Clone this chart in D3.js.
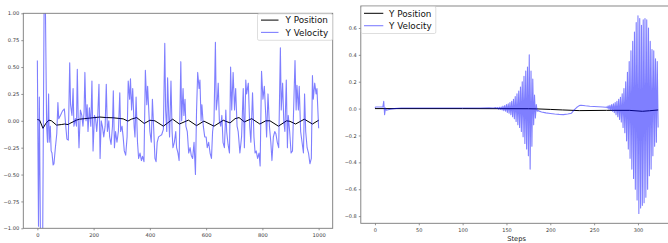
<!DOCTYPE html>
<html><head><meta charset="utf-8">
<script src="https://cdn.jsdelivr.net/npm/d3@7"></script>
<style>body{margin:0;background:#fff}svg{display:block}</style>
</head><body>
<svg id="c" width="668" height="243"></svg>
<script>
// ---------------- DATA ----------------
const legendLabels = ["Y Position", "Y Velocity"];

// Left panel
const leftXTicks = [0, 200, 400, 600, 800, 1000];
const leftYTicks = [-1, -0.75, -0.5, -0.25, 0, 0.25, 0.5, 0.75, 1];

const leftPosSteps = [0,8,20,30,41,50,68,85,97,109,115,139,150,168,186,222,245,269,305,322,334,353,380,400,418,448,481,505,537,566,592,628,661,685,703,717,736,762,791,812,827,857,886,898,918,949,978,1000];
const leftPosValues = [0.012,0.006,-0.07,-0.025,0.006,0.0,-0.04,-0.035,-0.03,-0.035,-0.025,0.006,0.015,0.02,0.025,0.035,0.03,0.028,0.018,-0.003,0.015,0.03,-0.025,0.005,0.0,-0.05,0.015,-0.03,0.006,-0.045,-0.003,-0.05,0.005,-0.02,0.02,0.03,-0.01,0.02,-0.03,0.0,0.0,-0.05,0.0,-0.005,-0.03,0.015,-0.03,0.005];

const leftVelSteps = [0,4,7,11,15,19,24,28,33,36,40,42,46,49,52,56,59,64,69,73,76,82,89,96,101,105,110,115,118,123,127,130,135,139,142,146,148,153,158,162,166,169,173,177,180,185,190,194,198,203,207,211,214,219,223,227,231,236,241,245,249,254,257,262,267,270,274,278,283,288,293,296,301,305,309,314,319,323,328,331,335,339,344,347,351,356,360,365,370,374,379,384,389,392,397,400,405,409,414,418,422,426,431,436,442,448,453,456,460,463,467,470,475,479,482,487,492,495,500,504,510,513,518,521,525,528,533,538,543,547,552,557,562,566,570,575,578,582,585,590,595,600,604,609,614,619,623,628,633,636,640,643,647,652,656,660,665,670,673,678,683,687,691,696,701,705,710,714,720,726,732,736,741,744,750,755,759,765,770,774,778,783,788,792,797,802,807,812,815,820,825,830,834,839,844,848,853,858,864,867,872,876,880,885,889,892,897,902,907,911,916,920,923,928,931,936,941,946,950,954,959,964,969,974,978,981,986,991,994,1000];
const leftVelValues = [0.56,-0.98,0.22,-1.1,-1.2,-1.05,1.1,1.2,-0.05,-0.2,0.25,-0.2,-0.05,-0.28,-0.3,-0.41,-0.4,-0.25,-0.12,0.17,0.02,0.05,0.09,0.11,-0.05,-0.17,-0.18,0.54,0.15,0.05,0.3,-0.05,0.02,-0.05,0.48,-0.1,-0.25,0.1,0.05,-0.05,0.08,0.45,0.0,0.15,-0.1,0.12,-0.05,0.37,-0.28,0.05,0.02,-0.1,0.0,0.34,-0.35,0.0,-0.05,-0.15,-0.05,0.34,-0.1,0.0,-0.15,-0.22,-0.05,0.28,-0.25,-0.1,-0.2,-0.1,0.26,-0.1,-0.05,-0.15,-0.28,-0.32,-0.15,0.37,0.2,0.39,0.1,0.3,-0.05,-0.15,0.22,-0.2,-0.35,-0.3,-0.37,-0.33,-0.38,0.47,0.15,0.32,0.05,-0.1,-0.2,0.2,-0.1,-0.35,-0.38,-0.2,-0.15,-0.14,-0.13,-0.08,0.72,0.1,-0.1,0.4,0.05,-0.15,0.37,-0.1,-0.25,-0.2,-0.1,-0.25,-0.3,-0.37,0.55,0.0,0.3,0.05,0.2,-0.05,-0.1,-0.3,-0.25,-0.32,-0.35,-0.2,-0.5,0.1,0.45,0.3,0.38,0.0,0.15,-0.05,-0.15,-0.15,-0.25,-0.2,-0.3,-0.35,-0.1,0.0,0.73,0.1,0.2,0.35,0.0,-0.05,0.05,-0.2,-0.25,0.1,-0.1,-0.22,-0.3,0.5,0.1,0.45,0.1,0.3,-0.05,-0.1,-0.3,-0.15,0.3,-0.25,0.38,0.25,0.35,-0.05,-0.2,0.26,-0.15,-0.3,-0.28,-0.35,-0.3,-0.42,0.46,0.2,0.32,0.05,-0.15,0.25,-0.05,-0.2,-0.37,-0.15,-0.1,-0.12,-0.2,-0.25,0.68,0.1,0.35,0.0,-0.1,0.38,-0.25,0.05,-0.1,-0.3,-0.28,0.1,0.56,0.1,0.33,0.1,0.32,-0.1,-0.2,-0.3,0.25,-0.1,-0.25,-0.3,-0.4,-0.35,0.42,0.2,0.35,0.25,0.3,-0.07];

// Right panel
const rightXTicks = [0, 50, 100, 150, 200, 250, 300];
const rightYTicks = [-0.8, -0.6, -0.4, -0.2, 0, 0.2, 0.4, 0.6];
const rightXLabel = "Steps";

const rightPosSteps = [0,100,175,184,200,214,233,264,290,305,313,323];
const rightPosValues = [0.0,0.0,-0.001,-0.002,-0.006,-0.01,-0.015,-0.013,-0.013,-0.02,-0.016,-0.01];

const rightVelSteps = [
  0,1,9,10,11,12,13,15,18,22,30,60,100,120,130,135,138,139,
  140,141,142,143,144,145,146,147,148,149,150,151,152,153,154,155,156,157,158,159,160,161,162,163,164,165,166,167,168,169,170,171,172,173,174,175,176,177,178,179,180,181,182,183,184,185,
  186,190,195,200,205,210,215,220,224,227,230,233,235,240,245,250,255,260,263,
  264,265,266,267,268,269,270,271,272,273,274,275,276,277,278,279,280,281,282,283,284,285,286,287,288,289,290,291,292,293,294,295,296,297,298,299,300,301,302,303,304,305,306,307,308,309,310,311,312,313,314,315,316,317,318,319,320,321,322,323
];
const rightVelValues = [
  0.005,0.012,0.013,0.055,-0.045,0.005,-0.012,-0.008,-0.004,0.0,0.004,0.005,0.005,0.005,0.006,0.004,0.007,0.002,
  0.008,-0.004,0.01,-0.006,0.012,-0.01,0.018,-0.015,0.022,-0.02,0.03,-0.028,0.036,-0.035,0.045,-0.045,0.055,-0.06,0.07,-0.075,0.09,-0.095,0.11,-0.12,0.13,-0.14,0.16,-0.17,0.2,-0.21,0.24,-0.26,0.28,-0.3,0.31,-0.35,0.40,-0.45,0.28,-0.28,0.22,-0.12,0.1,-0.07,0.03,-0.02,
  -0.015,-0.025,-0.032,-0.036,-0.04,-0.043,-0.045,-0.04,-0.035,-0.012,0.008,0.022,0.025,0.021,0.018,0.016,0.014,0.012,0.01,
  0.012,0.005,0.02,-0.005,0.025,-0.012,0.03,-0.02,0.035,-0.03,0.045,-0.045,0.055,-0.06,0.07,-0.08,0.085,-0.1,0.11,-0.14,0.15,-0.18,0.2,-0.24,0.27,-0.3,0.35,-0.37,0.43,-0.45,0.5,-0.52,0.57,-0.6,0.64,-0.68,0.69,-0.78,0.67,-0.74,0.62,-0.72,0.66,-0.7,0.67,-0.66,0.66,-0.6,0.6,-0.5,0.5,-0.45,0.44,-0.35,0.43,-0.28,0.37,-0.25,0.35,-0.14
];

// ---------------- DRAWING ----------------
const FONT = "DejaVu Sans, sans-serif";
const svg = d3.select("#c");
const zip = (xs, ys) => xs.map((x, i) => [x, ys[i]]);
function padDomain(vals, frac) {
  const [a, b] = d3.extent(vals);
  const m = (b - a) * frac;
  return [a - m, b + m];
}

function panel(cfg) {
  const g = svg.append("g");
  const x = d3.scaleLinear().domain(cfg.xDomain).range([cfg.left, cfg.right]);
  const y = d3.scaleLinear().domain(cfg.yDomain).range([cfg.bottom, cfg.top]);
  const clipId = "clip" + cfg.id;
  svg.append("clipPath").attr("id", clipId).append("rect")
    .attr("x", cfg.left).attr("y", cfg.top)
    .attr("width", cfg.right - cfg.left).attr("height", cfg.bottom - cfg.top);

  const line = d3.line().x(d => x(d[0])).y(d => y(d[1]));
  const plot = g.append("g").attr("clip-path", `url(#${clipId})`);
  plot.append("path").datum(cfg.pos).attr("d", line)
    .attr("fill", "none").attr("stroke", "#000").attr("stroke-width", 1);
  plot.append("path").datum(cfg.vel).attr("d", line)
    .attr("fill", "none").attr("stroke", "blue").attr("stroke-opacity", 0.5)
    .attr("stroke-width", 1.1).attr("stroke-linejoin", "round");

  // axes
  const ax = g.append("g").attr("transform", `translate(0,${cfg.bottom})`)
    .call(d3.axisBottom(x).tickValues(cfg.xTicks).tickFormat(d3.format("d"))
      .tickSize(2).tickPadding(3));
  const ay = g.append("g").attr("transform", `translate(${cfg.left},0)`)
    .call(d3.axisLeft(y).tickValues(cfg.yTicks).tickFormat(d3.format(cfg.yFmt))
      .tickSize(2).tickPadding(2));
  [ax, ay].forEach(a => {
    a.select(".domain").remove();
    a.selectAll(".tick line").attr("stroke", "#666").attr("stroke-width", 0.7);
    a.selectAll(".tick text").attr("fill", "#3a3a3a")
      .style("font-family", FONT).style("font-size", cfg.tickFont + "px");
  });

  // spines
  g.append("rect").attr("x", cfg.left).attr("y", cfg.top)
    .attr("width", cfg.right - cfg.left).attr("height", cfg.bottom - cfg.top)
    .attr("fill", "none").attr("stroke", "#7a7a7a").attr("stroke-width", 0.9);

  if (cfg.xLabel) {
    g.append("text").attr("x", (cfg.left + cfg.right) / 2).attr("y", cfg.xLabelY)
      .attr("text-anchor", "middle").attr("fill", "#222")
      .style("font-family", FONT).style("font-size", "6.7px").text(cfg.xLabel);
  }

  // legend
  const L = cfg.legend;
  const lg = g.append("g");
  lg.append("rect").attr("x", L.x).attr("y", L.y).attr("width", L.w).attr("height", L.h)
    .attr("rx", 1.5).attr("fill", "#fff").attr("fill-opacity", 0.85)
    .attr("stroke", "#d5d5d5").attr("stroke-width", 0.8);
  const styles = [
    {stroke: "#000", op: 1, w: 1},
    {stroke: "blue", op: 0.5, w: 1.1}
  ];
  legendLabels.forEach((lab, i) => {
    const cy = L.y + L.rowY[i];
    lg.append("line").attr("x1", L.lx1).attr("x2", L.lx2).attr("y1", cy).attr("y2", cy)
      .attr("stroke", styles[i].stroke).attr("stroke-opacity", styles[i].op)
      .attr("stroke-width", styles[i].w);
    lg.append("text").attr("x", L.tx).attr("y", cy + 3.2).attr("fill", "#111")
      .style("font-family", FONT).style("font-size", "8.8px").text(lab);
  });
}

// left panel
panel({
  id: "L",
  left: 23.3, right: 332.7, top: 13.3, bottom: 228.3,
  xDomain: padDomain(leftVelSteps, 0.05),
  yDomain: [-1, 1],
  pos: zip(leftPosSteps, leftPosValues),
  vel: zip(leftVelSteps, leftVelValues),
  xTicks: leftXTicks, yTicks: leftYTicks, yFmt: ".2f", tickFont: 5.2,
  legend: {x: 257.5, y: 13.8, w: 75, h: 26.5, rowY: [6.3, 18.6], lx1: 261, lx2: 278.5, tx: 285.5}
});

// right panel
const rvx = padDomain(rightVelSteps, 0.05);
const rvy = padDomain(rightVelValues, 0.05);
panel({
  id: "R",
  left: 360.8, right: 360.8 + (rvx[1] - rvx[0]) * 0.8767, top: 6, bottom: 223.3,
  xDomain: rvx,
  yDomain: rvy,
  pos: zip(rightPosSteps, rightPosValues),
  vel: zip(rightVelSteps, rightVelValues),
  xTicks: rightXTicks, yTicks: rightYTicks, yFmt: ".1f", tickFont: 5,
  xLabel: rightXLabel, xLabelY: 241.3,
  legend: {x: 361.3, y: 6.5, w: 74.5, h: 27, rowY: [6.8, 19.2], lx1: 364, lx2: 383.3, tx: 389}
});
</script>
</body></html>
